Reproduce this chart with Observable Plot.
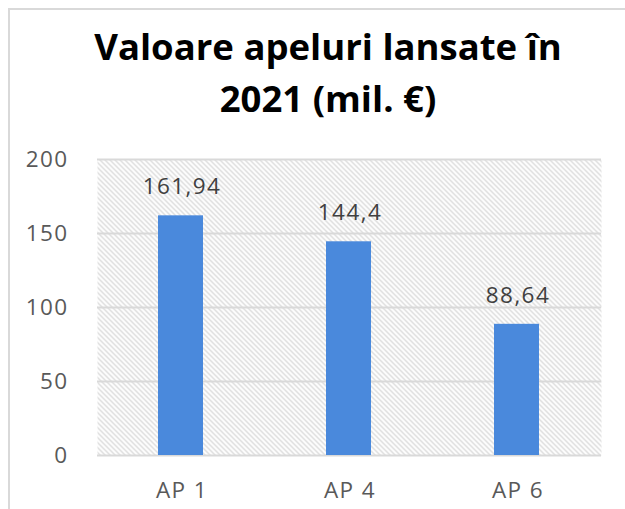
<!DOCTYPE html>
<html>
<head>
<meta charset="utf-8">
<script src="https://cdn.jsdelivr.net/npm/d3@7"></script>
<script src="https://cdn.jsdelivr.net/npm/@observablehq/plot@0.6"></script>
<style>
  html, body { margin: 0; padding: 0; background: #fff; }
  #wrap { position: relative; width: 625px; height: 509px; overflow: hidden; background: #fff; }
  #border { position: absolute; left: 8px; top: 8px; width: 700px; height: 600px; border-left: 2px solid #d9d9d9; border-top: 2px solid #d9d9d9; box-sizing: border-box; }
  #title { position: absolute; left: 0; top: 20px; width: 656px; text-align: center; font-family: "Open Sans", sans-serif; font-weight: 700; font-size: 36.5px; line-height: 52px; color: #000; }
  #chart { position: absolute; left: 0; top: 135px; }
  #chart svg text { letter-spacing: 1.4px; }
</style>
</head>
<body>
<div id="wrap">
  <div id="border"></div>
  <div id="title">Valoare apeluri lansate în<br>2021 (mil. €)</div>
  <div id="chart"></div>
</div>
<script>
const categories = ["AP 1", "AP 4", "AP 6"];
const values = [161.94, 144.4, 88.64];
const yTicks = [0, 50, 100, 150, 200];

const data = categories.map((c, i) => ({cat: c, value: values[i]}));
const fmt = v => String(v).replace(".", ",");

const plot = Plot.plot({
  width: 625,
  height: 374,
  marginTop: 24,
  marginBottom: 54,
  marginLeft: 97,
  marginRight: 24,
  style: {fontFamily: "'Open Sans', sans-serif", fontSize: "22px", color: "#595959", background: "transparent"},
  x: {domain: categories, paddingInner: 0.73, paddingOuter: 0.365, label: null},
  y: {domain: [0, 200], ticks: yTicks, label: null},
  marks: [
    Plot.frame({fill: "url(#hatch)", stroke: "none"}),
    Plot.gridY(yTicks, {stroke: "#d9d9d9", strokeOpacity: 1, strokeWidth: 2}),
    Plot.barY(data, {x: "cat", y: "value", fill: "#4a89dc"}),
    Plot.text(data, {x: "cat", y: "value", text: d => fmt(d.value), dy: -29, dx: 1, fill: "#404040", fontSize: 22.5}),
    Plot.axisY(yTicks, {tickSize: 0, tickPadding: 29, fontSize: 22.5, fill: "#595959", label: null}),
    Plot.axisX({tickSize: 0, tickPadding: 27, dx: 1, fontSize: 22.5, fill: "#595959", label: null})
  ]
});

const svgNS = "http://www.w3.org/2000/svg";
const defs = document.createElementNS(svgNS, "defs");
defs.innerHTML = '<pattern id="hatch" patternUnits="userSpaceOnUse" width="5" height="5">' +
  '<rect width="5" height="5" fill="#ffffff"/>' +
  '<path d="M-1,-1 L6,6 M-1,4 L1,6 M4,-1 L6,1" stroke="#cfcfcf" stroke-width="1.1"/></pattern>';
plot.insertBefore(defs, plot.firstChild);
d3.select(plot).selectAll("[aria-label=frame] , [aria-label=frame] *").attr("fill", "url(#hatch)");
document.getElementById("chart").appendChild(plot);
</script>
</body>
</html>
